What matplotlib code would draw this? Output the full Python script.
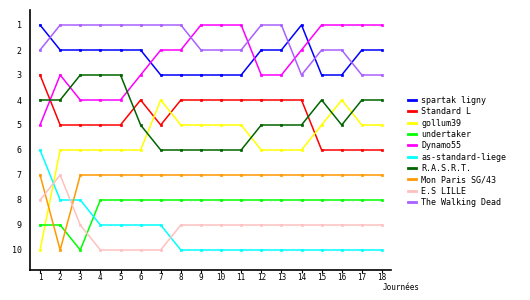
import matplotlib
matplotlib.use("Agg")
import matplotlib.pyplot as plt
from matplotlib.lines import Line2D

journees = list(range(1, 19))

teams = [
    "spartak ligny",
    "Standard L",
    "gollum39",
    "undertaker",
    "Dynamo55",
    "as-standard-liege",
    "R.A.S.R.T.",
    "Mon Paris SG/43",
    "E.S LILLE",
    "The Walking Dead",
]

colors = [
    "#0000ff",
    "#ff0000",
    "#ffff00",
    "#00ff00",
    "#ff00ff",
    "#00ffff",
    "#006400",
    "#ff9900",
    "#ffc0c0",
    "#a960ff",
]

# classement par journee
spartak = [1, 2, 2, 2, 2, 2, 3, 3, 3, 3, 3, 2, 2, 1, 3, 3, 2, 2]
standard = [3, 5, 5, 5, 5, 4, 5, 4, 4, 4, 4, 4, 4, 4, 6, 6, 6, 6]
gollum = [10, 6, 6, 6, 6, 6, 4, 5, 5, 5, 5, 6, 6, 6, 5, 4, 5, 5]
undertaker = [9, 9, 10, 8, 8, 8, 8, 8, 8, 8, 8, 8, 8, 8, 8, 8, 8, 8]
dynamo = [5, 3, 4, 4, 4, 3, 2, 2, 1, 1, 1, 3, 3, 2, 1, 1, 1, 1]
as_liege = [6, 8, 8, 9, 9, 9, 9, 10, 10, 10, 10, 10, 10, 10, 10, 10, 10, 10]
rasrt = [4, 4, 3, 3, 3, 5, 6, 6, 6, 6, 6, 5, 5, 5, 4, 5, 4, 4]
mon_paris = [7, 10, 7, 7, 7, 7, 7, 7, 7, 7, 7, 7, 7, 7, 7, 7, 7, 7]
es_lille = [8, 7, 9, 10, 10, 10, 10, 9, 9, 9, 9, 9, 9, 9, 9, 9, 9, 9]
walking = [2, 1, 1, 1, 1, 1, 1, 1, 2, 2, 2, 1, 1, 3, 2, 2, 3, 3]

series = [spartak, standard, gollum, undertaker, dynamo,
          as_liege, rasrt, mon_paris, es_lille, walking]

plt.rcParams["font.family"] = "DejaVu Sans Mono"

fig = plt.figure(figsize=(5.3, 3.0), dpi=100)
ax = fig.add_axes([30 / 530, 30 / 300, 361 / 530, 260 / 300])

for name, vals, c in zip(teams, series, colors):
    ax.plot(journees, vals, color=c, lw=1.1, marker="s", markersize=1.8,
            markeredgewidth=0.5)

ax.set_xlim(0.5, 18.45)
ax.set_ylim(10.8, 0.4)
ax.set_xticks(journees)
ax.set_yticks(range(1, 11))
ax.tick_params(axis="x", length=2, width=0.8, pad=0.5, labelsize=5.5)
ax.tick_params(axis="y", length=0, pad=6, labelsize=6)
ax.spines["top"].set_visible(False)
ax.spines["right"].set_visible(False)
ax.spines["left"].set_linewidth(1.2)
ax.spines["bottom"].set_linewidth(1.2)

fig.text(401 / 530, 1 - 288 / 300, "Journées", fontsize=5.5,
         ha="center", va="center")

handles = [Line2D([], [], color=c, lw=2) for c in colors]
fig.legend(handles, teams, loc="upper left",
           bbox_to_anchor=(408 / 530, 1 - 96 / 300),
           frameon=False, fontsize=6, handlelength=1.0, handletextpad=0.6,
           labelspacing=0.28, borderpad=0, borderaxespad=0)

fig.savefig("out.png", dpi=100)
